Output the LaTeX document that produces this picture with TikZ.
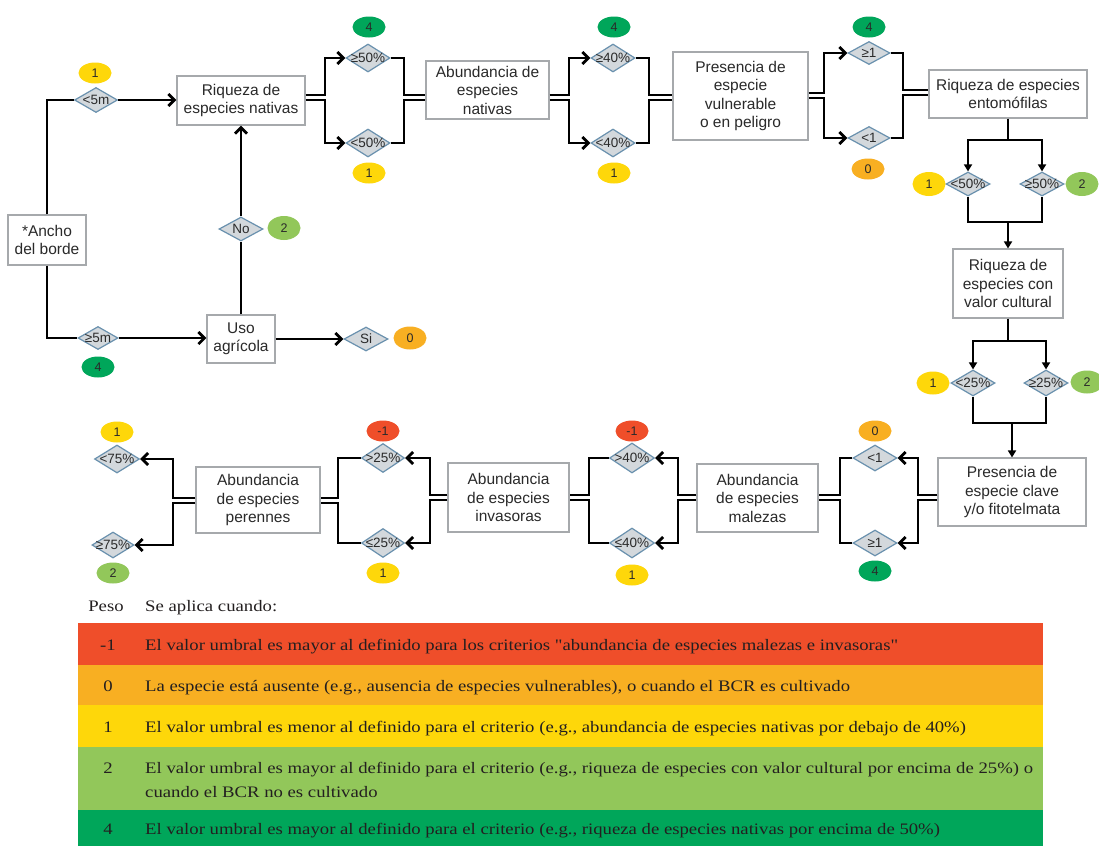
\documentclass[tikz,border=0pt]{standalone}
\usepackage{fontspec}
\setmainfont{Liberation Sans}
\newfontfamily\legfont[FakeStretch=1.17]{Liberation Serif}
\usetikzlibrary{shapes.geometric,arrows.meta,calc}
\definecolor{cred}{HTML}{EF4E2A}
\definecolor{corange}{HTML}{F8AF22}
\definecolor{cyellow}{HTML}{FED70A}
\definecolor{clgreen}{HTML}{92C75A}
\definecolor{cdgreen}{HTML}{00A65A}
\definecolor{dfill}{HTML}{D3D8DC}
\definecolor{dedge}{HTML}{6A91AE}
\definecolor{bedge}{HTML}{A6A9AC}
\definecolor{txt}{HTML}{2A2A2A}
\definecolor{legtxt}{HTML}{231F20}
\begin{document}
\begin{tikzpicture}[x=1pt,y=-1pt,
  box/.style={draw=bedge, fill=white, line width=1.1pt, align=center, text=txt,
    font=\fontsize{15.5}{18.5}\selectfont, inner sep=1pt},
  dia/.style={shape=diamond, draw=dedge, fill=dfill, line width=1.2pt,
    minimum width=44pt, minimum height=28pt, inner sep=0pt, text=txt,
    font=\fontsize{13.5}{14}\selectfont},
  wt/.style={shape=ellipse, minimum width=33pt, minimum height=21pt, inner sep=0pt,
    font=\fontsize{12.5}{13}\selectfont, text=txt},
  conn/.style={line width=2.8pt, draw=black},
  arr/.style={conn, -{Straight Barb[length=6pt,width=12pt]}},
  thinline/.style={line width=1.7pt, draw=black},
  tarr/.style={thinline, -{Triangle[length=7pt,width=8pt]}},
  leg/.style={font=\legfont\fontsize{16}{20}\selectfont, text=legtxt, inner sep=0pt}
  ]
\useasboundingbox (0,0) rectangle (1099,846);
\fill[white] (0,0) rectangle (1099,846);

% ---------- boxes ----------
\node[box, minimum width=78pt, minimum height=50pt] (ancho) at (47,240) {*Ancho\\del borde};
\node[box, minimum width=128pt, minimum height=49pt] (rn) at (241,100.5) {Riqueza de\\especies nativas};
\node[box, minimum width=68pt, minimum height=48pt] (uso) at (241,339) {Uso\\agrícola};
\node[box, minimum width=123pt, minimum height=58pt] (an) at (487.5,90) {Abundancia de\\especies\\nativas};
\node[box, minimum width=135pt, minimum height=88pt] (pv) at (740.5,96) {Presencia de\\especie\\vulnerable\\o en peligro};
\node[box, minimum width=158pt, minimum height=48pt] (re) at (1008,94) {Riqueza de especies\\entomófilas};
\node[box, minimum width=110pt, minimum height=69pt] (rc) at (1008,283.5) {Riqueza de\\especies con\\valor cultural};
\node[box, minimum width=148pt, minimum height=68pt] (pc) at (1012,492) {Presencia de\\especie clave\\y/o fitotelmata};
\node[box, minimum width=121pt, minimum height=68pt] (am) at (757.5,498) {Abundancia\\de especies\\malezas};
\node[box, minimum width=121pt, minimum height=69pt] (ai) at (508.5,497.5) {Abundancia\\de especies\\invasoras};
\node[box, minimum width=124pt, minimum height=66pt] (ap) at (258,500) {Abundancia\\de especies\\perennes};

% ---------- diamonds ----------
\node[dia, minimum width=43pt, minimum height=25pt] (d5m) at (96,100) {\makebox[0pt]{<5m}};
\node[dia, minimum width=40pt, minimum height=23pt] (dge5m) at (98,338) {\makebox[0pt]{≥5m}};
\node[dia, minimum height=24pt] (dno) at (241,229) {\makebox[0pt]{No}};
\node[dia, minimum height=24pt] (dsi) at (366,339) {\makebox[0pt]{Si}};
\node[dia] (d1a) at (368,58) {\makebox[0pt]{≥50\%}};
\node[dia] (d1b) at (368,143) {\makebox[0pt]{<50\%}};
\node[dia] (d2a) at (613,58) {\makebox[0pt]{≥40\%}};
\node[dia] (d2b) at (613,143) {\makebox[0pt]{<40\%}};
\node[dia, minimum width=42pt, minimum height=23pt] (d3a) at (869,53) {\makebox[0pt]{≥1}};
\node[dia, minimum width=42pt, minimum height=23pt] (d3b) at (869,138) {\makebox[0pt]{<1}};
\node[dia, minimum height=24pt] (d4a) at (968,184) {\makebox[0pt]{<50\%}};
\node[dia, minimum height=24pt] (d4b) at (1042,184) {\makebox[0pt]{≥50\%}};
\node[dia, minimum height=26pt] (d5a) at (973,383) {\makebox[0pt]{<25\%}};
\node[dia, minimum height=26pt] (d5b) at (1046,383) {\makebox[0pt]{≥25\%}};
\node[dia, minimum height=26pt] (d6a) at (875,458) {\makebox[0pt]{<1}};
\node[dia, minimum height=26pt] (d6b) at (875,543) {\makebox[0pt]{≥1}};
\node[dia, minimum width=45pt, minimum height=30pt] (d7a) at (632,458) {\makebox[0pt]{>40\%}};
\node[dia, minimum width=45pt, minimum height=30pt] (d7b) at (632,543) {\makebox[0pt]{≤40\%}};
\node[dia, minimum width=43pt, minimum height=29pt] (d8a) at (383,458) {\makebox[0pt]{>25\%}};
\node[dia, minimum width=43pt, minimum height=29pt] (d8b) at (383,543) {\makebox[0pt]{≤25\%}};
\node[dia, minimum width=45pt, minimum height=28pt] (d9a) at (117,459) {\makebox[0pt]{<75\%}};
\node[dia, minimum width=42pt, minimum height=26pt] (d9b) at (113,545) {\makebox[0pt]{≥75\%}};

% ---------- weights ----------
\node[wt, fill=cyellow] (w5m) at (95,73) {1};
\node[wt, fill=cdgreen] (wge5m) at (98,367) {4};
\node[wt, fill=clgreen, minimum height=24pt] (wno) at (284,228) {2};
\node[wt, fill=corange, minimum height=23pt] (wsi) at (410,338) {0};
\node[wt, fill=cdgreen] (w1a) at (369,27) {4};
\node[wt, fill=cyellow] (w1b) at (369,173) {1};
\node[wt, fill=cdgreen] (w2a) at (614,27) {4};
\node[wt, fill=cyellow] (w2b) at (614,173) {1};
\node[wt, fill=cdgreen] (w3a) at (869,27) {4};
\node[wt, fill=corange] (w3b) at (868,169) {0};
\node[wt, fill=cyellow, minimum height=24pt] (w4a) at (929,184) {1};
\node[wt, fill=clgreen, minimum height=24pt] (w4b) at (1082,184) {2};
\node[wt, fill=cyellow, minimum height=23pt] (w5a) at (933,383) {1};
\node[wt, fill=clgreen, minimum height=23pt] (w5b) at (1087,382) {2};
\node[wt, fill=corange] (w6a) at (875,431) {0};
\node[wt, fill=cdgreen] (w6b) at (875,571) {4};
\node[wt, fill=cred] (w7a) at (632,431) {-1};
\node[wt, fill=cyellow] (w7b) at (632,575) {1};
\node[wt, fill=cred] (w8a) at (383,431) {-1};
\node[wt, fill=cyellow] (w8b) at (383,573) {1};
\node[wt, fill=cyellow] (w9a) at (117,432) {1};
\node[wt, fill=clgreen] (w9b) at (113,573) {2};

% ---------- connectors: left part ----------
\draw[conn] (ancho.north) |- (d5m.west);
\draw[arr] (d5m.east) -- (d5m.east -| rn.west);
\draw[conn] (ancho.south) |- (dge5m.west);
\draw[arr] (dge5m.east) -- (dge5m.east -| uso.west);
\draw[conn] (uso.north) -- (dno.south);
\draw[arr] (dno.north) -- (rn.south);
\draw[arr] (uso.east) -- (dsi.west);

% ---------- top row ----------
\draw[arr] (rn.east|-0,95) -- (325,95) |- (d1a.west);
\draw[arr] (rn.east|-0,100) -- (325,100) |- (d1b.west);
\draw[conn] (d1a.east) -| (404,95) -- (an.west|-0,95);
\draw[conn] (d1b.east) -| (404,100) -- (an.west|-0,100);
\draw[arr] (an.east|-0,95) -- (569,95) |- (d2a.west);
\draw[arr] (an.east|-0,100) -- (569,100) |- (d2b.west);
\draw[conn] (d2a.east) -| (649,95) -- (pv.west|-0,95);
\draw[conn] (d2b.east) -| (649,100) -- (pv.west|-0,100);
\draw[arr] (pv.east|-0,93) -- (824,93) |- (d3a.west);
\draw[arr] (pv.east|-0,98) -- (824,98) |- (d3b.west);
\draw[conn] (d3a.east) -| (903,90) -- (re.west|-0,90);
\draw[conn] (d3b.east) -| (903,95) -- (re.west|-0,95);

% ---------- right column ----------
\draw[thinline] (re.south) -- (re.south|-0,140);
\draw[tarr] (re.south|-0,140) -| (d4a.north);
\draw[tarr] (re.south|-0,140) -| (d4b.north);
\draw[thinline] (d4a.south) |- (rc.north|-0,222) -| (d4b.south);
\draw[tarr] (rc.north|-0,222) -- (rc.north);
\draw[thinline] (rc.south) -- (rc.south|-0,341);
\draw[tarr] (rc.south|-0,341) -| (d5a.north);
\draw[tarr] (rc.south|-0,341) -| (d5b.north);
\draw[thinline] (d5a.south) |- (pc.north|-0,423) -| (d5b.south);
\draw[tarr] (pc.north|-0,423) -- (pc.north);

% ---------- bottom row ----------
\draw[arr] (pc.west|-0,495) -- (918,495) |- (d6a.east);
\draw[arr] (pc.west|-0,500) -- (918,500) |- (d6b.east);
\draw[conn] (d6a.west) -| (840,495) -- (am.east|-0,495);
\draw[conn] (d6b.west) -| (840,500) -- (am.east|-0,500);
\draw[arr] (am.west|-0,495) -- (678,495) |- (d7a.east);
\draw[arr] (am.west|-0,500) -- (678,500) |- (d7b.east);
\draw[conn] (d7a.west) -| (589,495) -- (ai.east|-0,495);
\draw[conn] (d7b.west) -| (589,500) -- (ai.east|-0,500);
\draw[arr] (ai.west|-0,495) -- (430,495) |- (d8a.east);
\draw[arr] (ai.west|-0,500) -- (430,500) |- (d8b.east);
\draw[conn] (d8a.west) -| (338,498) -- (ap.east|-0,498);
\draw[conn] (d8b.west) -| (338,503) -- (ap.east|-0,503);
\draw[arr] (ap.west|-0,498) -- (173,498) |- (d9a.east);
\draw[arr] (ap.west|-0,503) -- (173,503) |- (d9b.east);

% ---------- legend ----------
\fill[cred] (78,623) rectangle (1043,665);
\fill[corange] (78,665) rectangle (1043,705);
\fill[cyellow] (78,705) rectangle (1043,747);
\fill[clgreen] (78,747) rectangle (1043,810);
\fill[cdgreen] (78,810) rectangle (1043,846);

\node[leg, anchor=base] (lpeso) at (106,611) {Peso};
\node[leg, anchor=base west] (lse) at (145,611) {Se aplica cuando:};

\node[leg, anchor=base] (n1) at (108,650) {-1};
\node[leg, anchor=base west] (t1) at (145,650) {El valor umbral es mayor al definido para los criterios "abundancia de especies malezas e invasoras"};
\node[leg, anchor=base] (n2) at (108,691) {0};
\node[leg, anchor=base west] (t2) at (145,691) {La especie está ausente (e.g., ausencia de especies vulnerables), o cuando el BCR es cultivado};
\node[leg, anchor=base] (n3) at (108,732) {1};
\node[leg, anchor=base west] (t3) at (145,732) {El valor umbral es menor al definido para el criterio (e.g., abundancia de especies nativas por debajo de 40\%)};
\node[leg, anchor=base] (n4) at (108,773) {2};
\node[leg, anchor=base west] (t4) at (145,773) {El valor umbral es mayor al definido para el criterio (e.g., riqueza de especies con valor cultural por encima de 25\%) o};
\node[leg, anchor=base west] (t4b) at (145,797) {cuando el BCR no es cultivado};
\node[leg, anchor=base] (n5) at (108,834) {4};
\node[leg, anchor=base west] (t5) at (145,834) {El valor umbral es mayor al definido para el criterio (e.g., riqueza de especies nativas por encima de 50\%)};
\end{tikzpicture}
\end{document}
